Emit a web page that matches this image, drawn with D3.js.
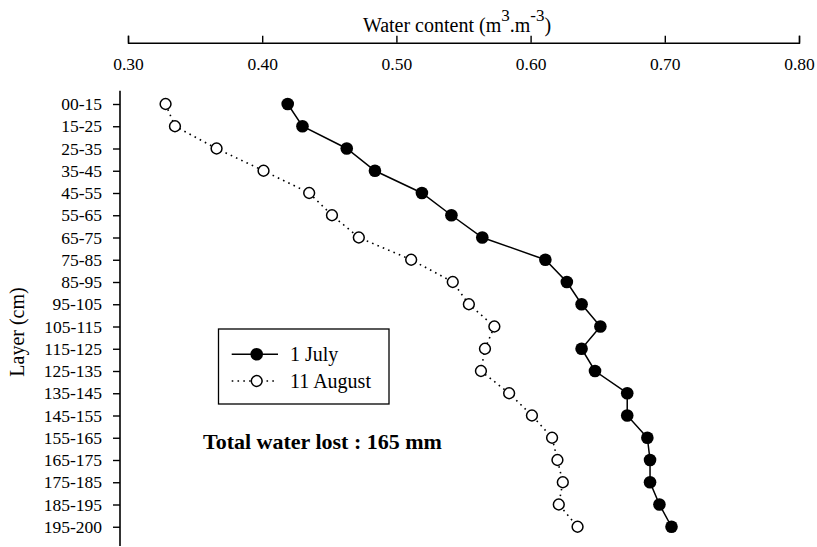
<!DOCTYPE html>
<html>
<head>
<meta charset="utf-8">
<script src="https://cdn.jsdelivr.net/npm/d3@7/dist/d3.min.js"></script>
<style>
  html, body { margin: 0; padding: 0; background: #fff; }
  svg { display: block; }
  text { font-family: "Liberation Serif", "Times New Roman", serif; fill: #000; }
</style>
</head>
<body>
<div id="chart"></div>
<script>
const layers = ["00-15","15-25","25-35","35-45","45-55","55-65","65-75","75-85","85-95","95-105",
  "105-115","115-125","125-135","135-145","145-155","155-165","165-175","175-185","185-195","195-200"];
const july = [0.419,0.430,0.463,0.484,0.519,0.541,0.564,0.611,0.627,0.638,
  0.652,0.638,0.648,0.672,0.672,0.687,0.689,0.689,0.696,0.705];
const august = [0.328,0.335,0.366,0.401,0.435,0.452,0.472,0.511,0.542,0.554,
  0.573,0.566,0.563,0.584,0.601,0.616,0.620,0.624,0.621,0.635];
const xTicks = [0.30,0.40,0.50,0.60,0.70,0.80];
const seriesNames = ["1 July","11 August"];

const W = 817, H = 547;
const svg = d3.select("#chart").append("svg").attr("width", W).attr("height", H);

const x = d3.scaleLinear().domain([0.30, 0.80]).range([128, 799]);
const y = d3.scalePoint().domain(layers).range([104, 526.75]);

// top x axis: ticks up, labels below
const xAxis = svg.append("g").attr("transform", "translate(0,42.7)")
  .call(d3.axisTop(x).tickValues(xTicks).tickFormat(d3.format(".2f")).tickSize(7).tickSizeOuter(7));
xAxis.select(".domain").attr("stroke-width", 1.4);
xAxis.selectAll(".tick line").attr("stroke-width", 1.4);
xAxis.selectAll(".tick text").attr("y", 27).attr("dy", "0")
  .style("font-size", "17.5px").style("font-family", "Liberation Serif, serif");

// title
const title = svg.append("text").attr("x", 457).attr("y", 31.7).attr("text-anchor", "middle")
  .style("font-size", "20px");
title.append("tspan").text("Water content (m");
title.append("tspan").attr("dy", -11).style("font-size", "17px").text("3");
title.append("tspan").attr("dy", 11).text(".m");
title.append("tspan").attr("dy", -11).style("font-size", "17px").text("-3");
title.append("tspan").attr("dy", 11).text(")");

// left y axis
const yAxis = svg.append("g").attr("transform", "translate(120,0)")
  .call(d3.axisLeft(y).tickSize(7).tickPadding(11));
yAxis.select(".domain").remove();
yAxis.append("line").attr("x1", 0).attr("x2", 0).attr("y1", 90.7).attr("y2", 546)
  .attr("stroke", "#000").attr("stroke-width", 1.6);
yAxis.selectAll(".tick line").attr("stroke-width", 1.4);
yAxis.selectAll(".tick text").style("font-size", "17.5px").style("font-family", "Liberation Serif, serif");

svg.append("text").attr("transform", "translate(24,332) rotate(-90)").attr("text-anchor", "middle")
  .style("font-size", "20px").text("Layer (cm)");

// series
const line = d3.line().x(d => x(d.v)).y(d => y(d.k));
const julyData = layers.map((k, i) => ({k, v: july[i]}));
const augData = layers.map((k, i) => ({k, v: august[i]}));

svg.append("path").datum(augData).attr("d", line).attr("fill", "none")
  .attr("stroke", "#000").attr("stroke-width", 1.6).attr("stroke-dasharray", "1.6 4.2");
svg.append("path").datum(julyData).attr("d", line).attr("fill", "none")
  .attr("stroke", "#000").attr("stroke-width", 1.5);

svg.selectAll("circle.jul").data(julyData).enter().append("circle").attr("class", "jul")
  .attr("cx", d => x(d.v)).attr("cy", d => y(d.k)).attr("r", 6.3).attr("fill", "#000");
svg.selectAll("circle.aug").data(augData).enter().append("circle").attr("class", "aug")
  .attr("cx", d => x(d.v)).attr("cy", d => y(d.k)).attr("r", 5.4)
  .attr("fill", "#fff").attr("stroke", "#000").attr("stroke-width", 1.5);

// legend
const lg = svg.append("g");
lg.append("rect").attr("x", 218.5).attr("y", 329).attr("width", 170.5).attr("height", 75)
  .attr("fill", "#fff").attr("stroke", "#000").attr("stroke-width", 1.3);
const rows = [354.3, 381];
lg.append("line").attr("x1", 231.7).attr("x2", 278).attr("y1", rows[0]).attr("y2", rows[0])
  .attr("stroke", "#000").attr("stroke-width", 1.5);
lg.append("circle").attr("cx", 256.7).attr("cy", rows[0]).attr("r", 6.3).attr("fill", "#000");
lg.append("line").attr("x1", 231.7).attr("x2", 278).attr("y1", rows[1]).attr("y2", rows[1])
  .attr("stroke", "#000").attr("stroke-width", 1.6).attr("stroke-dasharray", "1.6 4.2");
lg.append("circle").attr("cx", 256.7).attr("cy", rows[1]).attr("r", 5.4)
  .attr("fill", "#fff").attr("stroke", "#000").attr("stroke-width", 1.5);
seriesNames.forEach((n, i) => {
  lg.append("text").attr("x", 290).attr("y", rows[i] + 7).style("font-size", "20px").text(n);
});

svg.append("text").attr("x", 203).attr("y", 449).style("font-size", "22px").style("font-weight", "bold")
  .text("Total water lost : 165 mm");
</script>
</body>
</html>
